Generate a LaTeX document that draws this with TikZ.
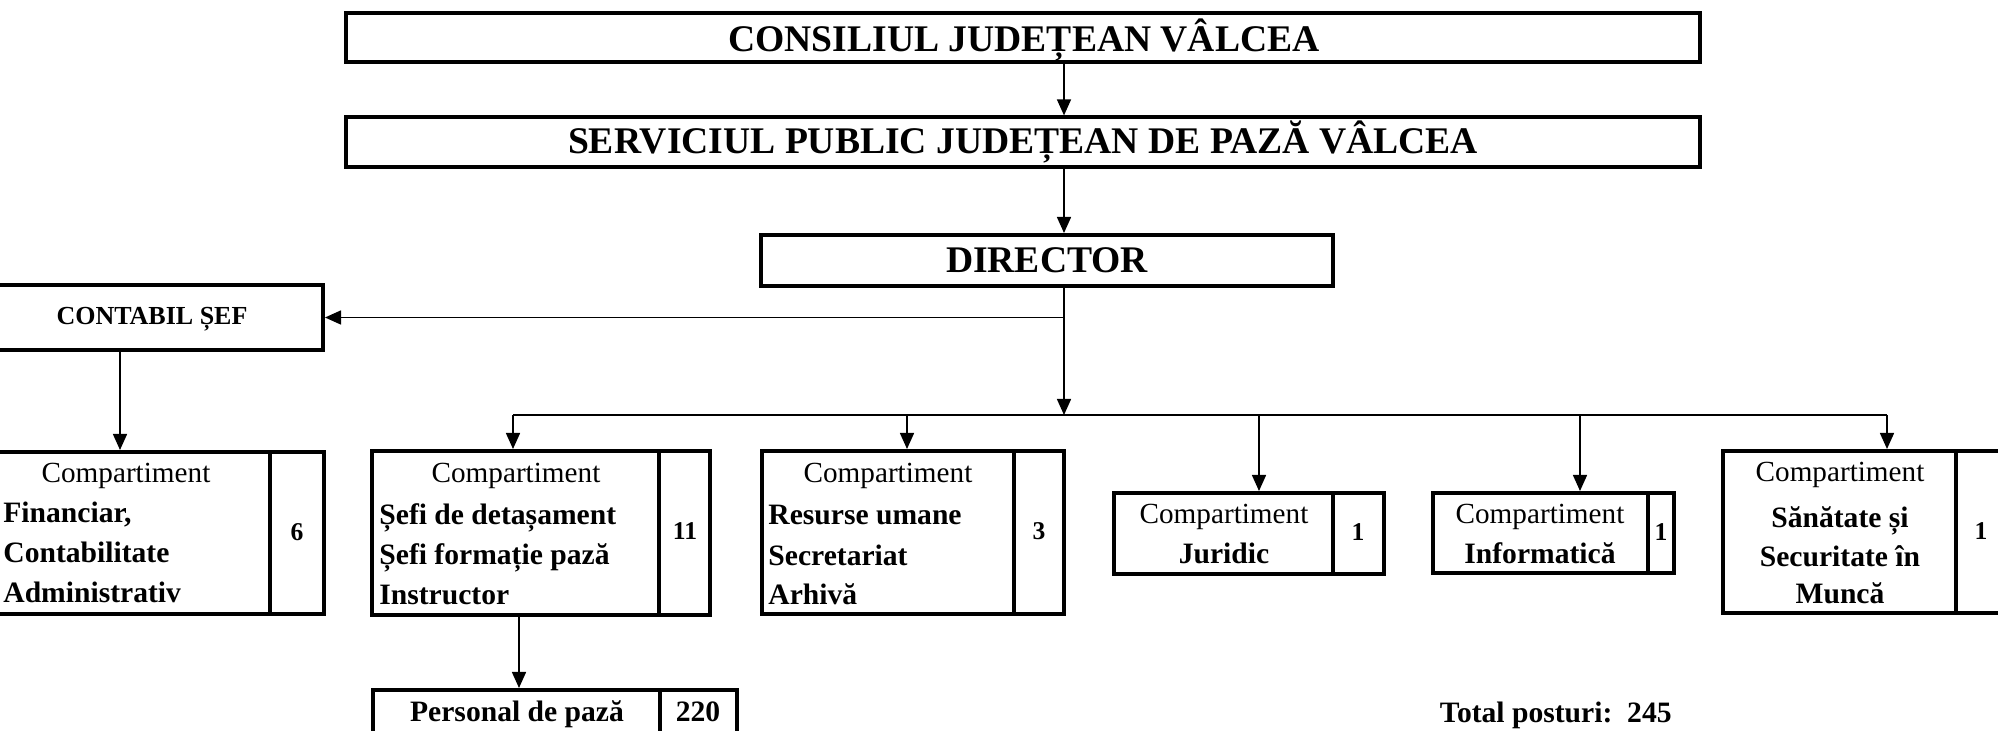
\documentclass[tikz,border=0pt]{standalone}
\usepackage{fontspec}
\setmainfont{Liberation Serif}
\usetikzlibrary{fit,arrows.meta}
\begin{document}
\begin{tikzpicture}[x=0.5pt,y=-0.5pt,
  box/.style={draw, line width=2pt, inner sep=0pt},
  topbox/.style={draw, line width=1.6pt, inner sep=0pt},
  con/.style={line width=0.75pt},
  arr/.style={con, -{Triangle[length=8pt,width=7pt]}},
  txt/.style={inner sep=0pt},
  title/.style={txt, anchor=base, font=\fontsize{18.8}{22}\selectfont\bfseries},
  comp/.style={txt, anchor=base, font=\fontsize{14.6}{18}\selectfont},
  bl/.style={txt, anchor=base west, font=\fontsize{14.8}{18}\selectfont\bfseries},
  bc/.style={txt, anchor=base, font=\fontsize{14.8}{18}\selectfont\bfseries},
  num/.style={txt, anchor=base, font=\fontsize{12.8}{15}\selectfont\bfseries}]
\useasboundingbox (0,0) rectangle (1998,731);
\clip (0,0) rectangle (1998,731);
\fill[white] (0,0) rectangle (1998,731);

% top chain
\node[topbox, fit={(346,13) (1700,62)}] (cons) {};
\node[title] (consT) at (1024,52) {CONSILIUL JUDEȚEAN VÂLCEA};
\node[topbox, fit={(346,117) (1700,167)}] (serv) {};
\node[title] (servT) at (1023,154) {SERVICIUL PUBLIC JUDEȚEAN DE PAZĂ VÂLCEA};
\node[box, fit={(761,235) (1333,286)}] (dir) {};
\node[title] (dirT) at (1047,273) {DIRECTOR};
\node[box, fit={(-20,285) (323,350)}] (cont) {};
\node[txt, anchor=base, font=\fontsize{13}{15}\selectfont\bfseries] (contT) at (152,325) {CONTABIL ȘEF};

% Financiar
\node[box, fit={(-20,452) (270,614)}] (fin) {};
\node[box, fit={(270,452) (324,614)}] (finN) {};
\node[comp] (finC) at (126,483) {Compartiment};
\node[bl] (fin1) at (3,523) {Financiar,};
\node[bl] (fin2) at (3,563) {Contabilitate};
\node[bl] (fin3) at (3,603) {Administrativ};
\node[num] (finV) at (297,541) {6};

% Sefi
\node[box, fit={(372,451) (659,615)}] (sefi) {};
\node[box, fit={(659,451) (710,615)}] (sefiN) {};
\node[comp] (sefiC) at (516,483) {Compartiment};
\node[bl] (sefi1) at (379,525) {Șefi de detașament};
\node[bl] (sefi2) at (379,565) {Șefi formație pază};
\node[bl] (sefi3) at (379,605) {Instructor};
\node[num] (sefiV) at (685,540) {11};

% Resurse
\node[box, fit={(762,451) (1014,614)}] (res) {};
\node[box, fit={(1014,451) (1064,614)}] (resN) {};
\node[comp] (resC) at (888,483) {Compartiment};
\node[bl] (res1) at (768,525) {Resurse umane};
\node[bl] (res2) at (768,566) {Secretariat};
\node[bl] (res3) at (768,605) {Arhivă};
\node[num] (resV) at (1039,540) {3};

% Juridic
\node[box, fit={(1114,493) (1333,574)}] (jur) {};
\node[box, fit={(1333,493) (1384,574)}] (jurN) {};
\node[comp] (jurC) at (1224,524) {Compartiment};
\node[bc] (jur1) at (1224,564) {Juridic};
\node[num] (jurV) at (1358,541) {1};

% Informatica
\node[box, fit={(1433,493) (1648,573)}] (inf) {};
\node[box, fit={(1648,493) (1674,573)}] (infN) {};
\node[comp] (infC) at (1540,524) {Compartiment};
\node[bc] (inf1) at (1540,564) {Informatică};
\node[num] (infV) at (1661,541) {1};

% Sanatate
\node[box, fit={(1723,451) (1956,613)}] (san) {};
\node[box, fit={(1956,451) (2010,613)}] (sanN) {};
\node[comp] (sanC) at (1840,482) {Compartiment};
\node[bc] (san1) at (1840,528) {Sănătate și};
\node[bc] (san2) at (1840,567) {Securitate în};
\node[bc] (san3) at (1840,604) {Muncă};
\node[num] (sanV) at (1981,540) {1};

% Personal
\node[box, fit={(373,690) (660,770)}] (pers) {};
\node[box, fit={(660,690) (737,770)}] (persN) {};
\node[bc] (pers1) at (517,722) {Personal de pază};
\node[bc] (persV) at (698,722) {220};

% total
\node[txt, anchor=base east, font=\fontsize{14.8}{18}\selectfont\bfseries] (total) at (1672,723) {Total posturi:\ \ 245};

% connectors
\coordinate (sp) at (1064,0);
\coordinate (busL) at (513,415);
\coordinate (busR) at (1887,415);
\coordinate (d2) at (907,415);
\coordinate (d3) at (1259,415);
\coordinate (d4) at (1580,415);
\coordinate (cx) at (120,0);
\coordinate (px) at (519,0);

\draw[arr] (cons.south -| sp) -- (serv.north -| sp);
\draw[arr] (serv.south -| sp) -- (dir.north -| sp);
\draw[arr] (dir.south -| sp) -- (sp |- busL);
\draw[arr] (sp |- cont.east) -- (cont.east);
\draw[con] (busL) -- (busR);
\draw[arr] (busL) -- (busL |- sefi.north);
\draw[arr] (d2) -- (d2 |- res.north);
\draw[arr] (d3) -- (d3 |- jur.north);
\draw[arr] (d4) -- (d4 |- inf.north);
\draw[arr] (busR) -- (busR |- san.north);
\draw[arr] (cont.south -| cx) -- (fin.north -| cx);
\draw[arr] (sefi.south -| px) -- (pers.north -| px);
\end{tikzpicture}
\end{document}
